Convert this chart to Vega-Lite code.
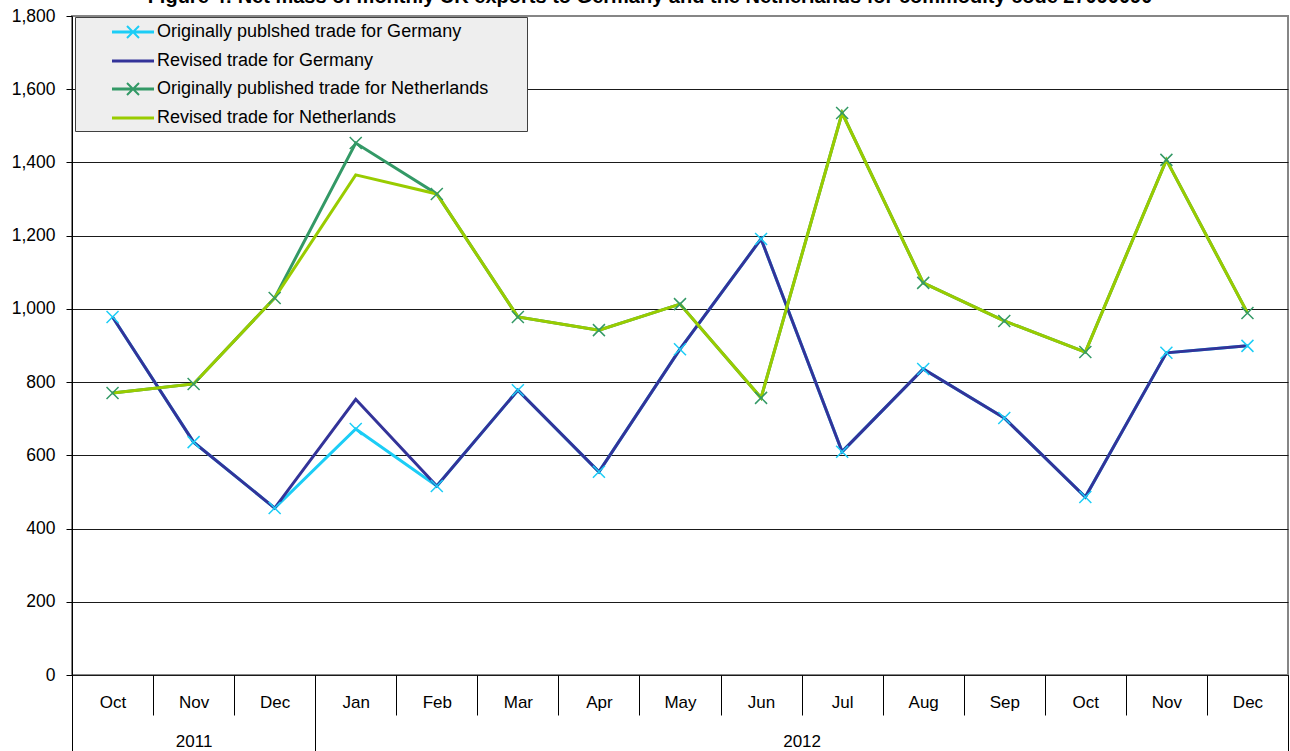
{
  "$schema": "https://vega.github.io/schema/vega-lite/v6.json",
  "width": 1216,
  "height": 659,
  "autosize": {"type": "none"},
  "padding": {"left": 72, "top": 16, "right": 2, "bottom": 76},
  "title": {
    "text": "Figure 4: Net mass of monthly UK exports to Germany and the Netherlands for commodity code 27090090",
    "fontSize": 20,
    "fontWeight": "bold",
    "color": "#000000",
    "anchor": "middle",
    "frame": "group",
    "dx": -30,
    "offset": 0
  },
  "config": {
    "font": "Liberation Sans",
    "view": {"stroke": "#868686", "strokeWidth": 2},
    "axis": {"labelFlush": false, "labelOverlap": false, "labelFontSize": 17, "labelColor": "#000000", "title": null},
    "axisY": {"grid": true, "gridWidth": 1, "domain": true, "domainColor": "#000000", "domainWidth": 1, "tickSize": 6, "tickColor": "#000000", "labelPadding": 11, "labelFontSize": 17.5}
  },
  "data": {
    "values": [
      {"idx": 1, "Originally publshed trade for Germany": 978, "Revised trade for Germany": 978, "Originally published trade for Netherlands": 770, "Revised trade for Netherlands": 770},
      {"idx": 2, "Originally publshed trade for Germany": 636, "Revised trade for Germany": 636, "Originally published trade for Netherlands": 795, "Revised trade for Netherlands": 795},
      {"idx": 3, "Originally publshed trade for Germany": 456, "Revised trade for Germany": 456, "Originally published trade for Netherlands": 1030, "Revised trade for Netherlands": 1030},
      {"idx": 4, "Originally publshed trade for Germany": 672, "Revised trade for Germany": 753, "Originally published trade for Netherlands": 1453, "Revised trade for Netherlands": 1366},
      {"idx": 5, "Originally publshed trade for Germany": 516, "Revised trade for Germany": 516, "Originally published trade for Netherlands": 1314, "Revised trade for Netherlands": 1314},
      {"idx": 6, "Originally publshed trade for Germany": 778, "Revised trade for Germany": 778, "Originally published trade for Netherlands": 978, "Revised trade for Netherlands": 978},
      {"idx": 7, "Originally publshed trade for Germany": 555, "Revised trade for Germany": 555, "Originally published trade for Netherlands": 942, "Revised trade for Netherlands": 942},
      {"idx": 8, "Originally publshed trade for Germany": 890, "Revised trade for Germany": 890, "Originally published trade for Netherlands": 1013, "Revised trade for Netherlands": 1013},
      {"idx": 9, "Originally publshed trade for Germany": 1191, "Revised trade for Germany": 1191, "Originally published trade for Netherlands": 757, "Revised trade for Netherlands": 757},
      {"idx": 10, "Originally publshed trade for Germany": 610, "Revised trade for Germany": 610, "Originally published trade for Netherlands": 1535, "Revised trade for Netherlands": 1535},
      {"idx": 11, "Originally publshed trade for Germany": 836, "Revised trade for Germany": 836, "Originally published trade for Netherlands": 1071, "Revised trade for Netherlands": 1071},
      {"idx": 12, "Originally publshed trade for Germany": 702, "Revised trade for Germany": 702, "Originally published trade for Netherlands": 967, "Revised trade for Netherlands": 967},
      {"idx": 13, "Originally publshed trade for Germany": 486, "Revised trade for Germany": 486, "Originally published trade for Netherlands": 882, "Revised trade for Netherlands": 882},
      {"idx": 14, "Originally publshed trade for Germany": 880, "Revised trade for Germany": 880, "Originally published trade for Netherlands": 1407, "Revised trade for Netherlands": 1407},
      {"idx": 15, "Originally publshed trade for Germany": 899, "Revised trade for Germany": 899, "Originally published trade for Netherlands": 989, "Revised trade for Netherlands": 989}
    ]
  },
  "transform": [
    {"fold": ["Originally publshed trade for Germany", "Revised trade for Germany", "Originally published trade for Netherlands", "Revised trade for Netherlands"], "as": ["series", "value"]}
  ],
  "resolve": {"axis": {"x": "independent"}, "legend": {"color": "independent", "shape": "independent"}},
  "layer": [
    {
      "transform": [{"filter": "indexof(datum.series, 'Germany') >= 0"}],
      "mark": {"type": "line", "strokeWidth": 3},
      "encoding": {
        "x": {
          "field": "idx", "type": "quantitative",
          "scale": {"domain": [0.5, 15.5], "nice": false, "zero": false},
          "axis": {"orient": "bottom", "values": [0.5, 1.5, 2.5, 3.5, 4.5, 5.5, 6.5, 7.5, 8.5, 9.5, 10.5, 11.5, 12.5, 13.5, 14.5, 15.5], "labels": false, "grid": false, "domain": false, "ticks": true, "tickSize": 40, "tickColor": "#000000", "tickWidth": 1}
        },
        "y": {
          "field": "value", "type": "quantitative",
          "scale": {"domain": [0, 1800], "nice": false},
          "axis": {"values": [0, 200, 400, 600, 800, 1000, 1200, 1400, 1600, 1800], "labelExpr": "format(datum.value, ',.0f')", "gridColor": {"condition": {"test": "datum.value === 1800", "value": "#868686"}, "value": "#1a1a1a"}}
        },
        "color": {
          "field": "series", "type": "nominal",
          "scale": {"domain": ["Originally publshed trade for Germany", "Revised trade for Germany", "Originally published trade for Netherlands", "Revised trade for Netherlands"], "range": ["#1ccdf6", "#333399", "#339966", "#99cc00"]},
          "legend": null
        },
        "order": {"field": "idx", "type": "quantitative"}
      }
    },
    {
      "transform": [{"filter": "indexof(datum.series, 'Netherlands') >= 0"}],
      "mark": {"type": "line", "strokeWidth": 3},
      "encoding": {
        "x": {
          "field": "idx", "type": "quantitative",
          "axis": {"orient": "bottom", "values": [1, 2, 3, 4, 5, 6, 7, 8, 9, 10, 11, 12, 13, 14, 15], "labelExpr": "['Oct','Nov','Dec','Jan','Feb','Mar','Apr','May','Jun','Jul','Aug','Sep','Oct','Nov','Dec'][datum.value - 1]", "grid": false, "domain": false, "ticks": false, "tickSize": 0, "labelPadding": 27, "labelBaseline": "middle"}
        },
        "y": {
          "field": "value", "type": "quantitative",
          "axis": {"values": [0, 200, 400, 600, 800, 1000, 1200, 1400, 1600, 1800], "labelExpr": "format(datum.value, ',.0f')", "gridColor": {"condition": {"test": "datum.value === 1800", "value": "#868686"}, "value": "#1a1a1a"}}
        },
        "color": {"field": "series", "type": "nominal", "legend": null},
        "order": {"field": "idx", "type": "quantitative"}
      }
    },
    {
      "transform": [{"filter": "indexof(datum.series, 'Originally') === 0"}],
      "mark": {"type": "point", "shape": "M-1,-1L1,1M-1,1L1,-1", "size": 144, "filled": false, "strokeWidth": 1.5, "opacity": 1},
      "encoding": {
        "x": {
          "field": "idx", "type": "quantitative",
          "axis": {"orient": "bottom", "values": [0.5, 3.5, 15.5], "labels": false, "grid": false, "domain": false, "ticks": true, "tickSize": 76, "tickColor": "#000000", "tickWidth": 1}
        },
        "y": {
          "field": "value", "type": "quantitative",
          "axis": {"values": [0, 200, 400, 600, 800, 1000, 1200, 1400, 1600, 1800], "labelExpr": "format(datum.value, ',.0f')", "gridColor": {"condition": {"test": "datum.value === 1800", "value": "#868686"}, "value": "#1a1a1a"}}
        },
        "color": {"field": "series", "type": "nominal", "legend": null}
      }
    },
    {
      "mark": {"type": "point", "filled": false, "opacity": 0},
      "encoding": {
        "x": {
          "field": "idx", "type": "quantitative",
          "axis": {"orient": "bottom", "values": [2, 9.5], "labelExpr": "datum.value < 5 ? '2011' : '2012'", "grid": false, "domain": false, "ticks": false, "tickSize": 0, "labelPadding": 66, "labelBaseline": "middle"}
        },
        "y": {
          "field": "value", "type": "quantitative",
          "axis": {"values": [0, 200, 400, 600, 800, 1000, 1200, 1400, 1600, 1800], "labelExpr": "format(datum.value, ',.0f')", "gridColor": {"condition": {"test": "datum.value === 1800", "value": "#868686"}, "value": "#1a1a1a"}}
        },
        "color": {
          "field": "series", "type": "nominal", "title": " ",
          "legend": {"orient": "none", "legendX": 3, "legendY": 1, "fillColor": "#eeeeee", "strokeColor": "#404040", "padding": 4, "symbolSize": 400, "symbolStrokeWidth": 2, "symbolOffset": 43, "symbolOpacity": 1, "labelOffset": 13, "labelFontSize": 18, "labelColor": "#000000", "labelLimit": 0, "rowPadding": 8, "titleOrient": "right", "titlePadding": 35, "titleFontSize": 13}
        },
        "shape": {
          "field": "series", "type": "nominal", "title": " ",
          "scale": {"domain": ["Originally publshed trade for Germany", "Revised trade for Germany", "Originally published trade for Netherlands", "Revised trade for Netherlands"], "range": ["M-2,-0.05H2V0.05H-2ZM-0.6,-0.6L0.6,0.6M-0.6,0.6L0.6,-0.6", "M-2,-0.05H2V0.05H-2Z", "M-2,-0.05H2V0.05H-2ZM-0.6,-0.6L0.6,0.6M-0.6,0.6L0.6,-0.6", "M-2,-0.05H2V0.05H-2Z"]},
          "legend": {"orient": "none", "legendX": 3, "legendY": 1, "fillColor": "#eeeeee", "strokeColor": "#404040", "padding": 4, "symbolSize": 400, "symbolStrokeWidth": 2, "symbolOffset": 43, "symbolOpacity": 1, "labelOffset": 13, "labelFontSize": 18, "labelColor": "#000000", "labelLimit": 0, "rowPadding": 8, "titleOrient": "right", "titlePadding": 35, "titleFontSize": 13}
        }
      }
    }
  ]
}
